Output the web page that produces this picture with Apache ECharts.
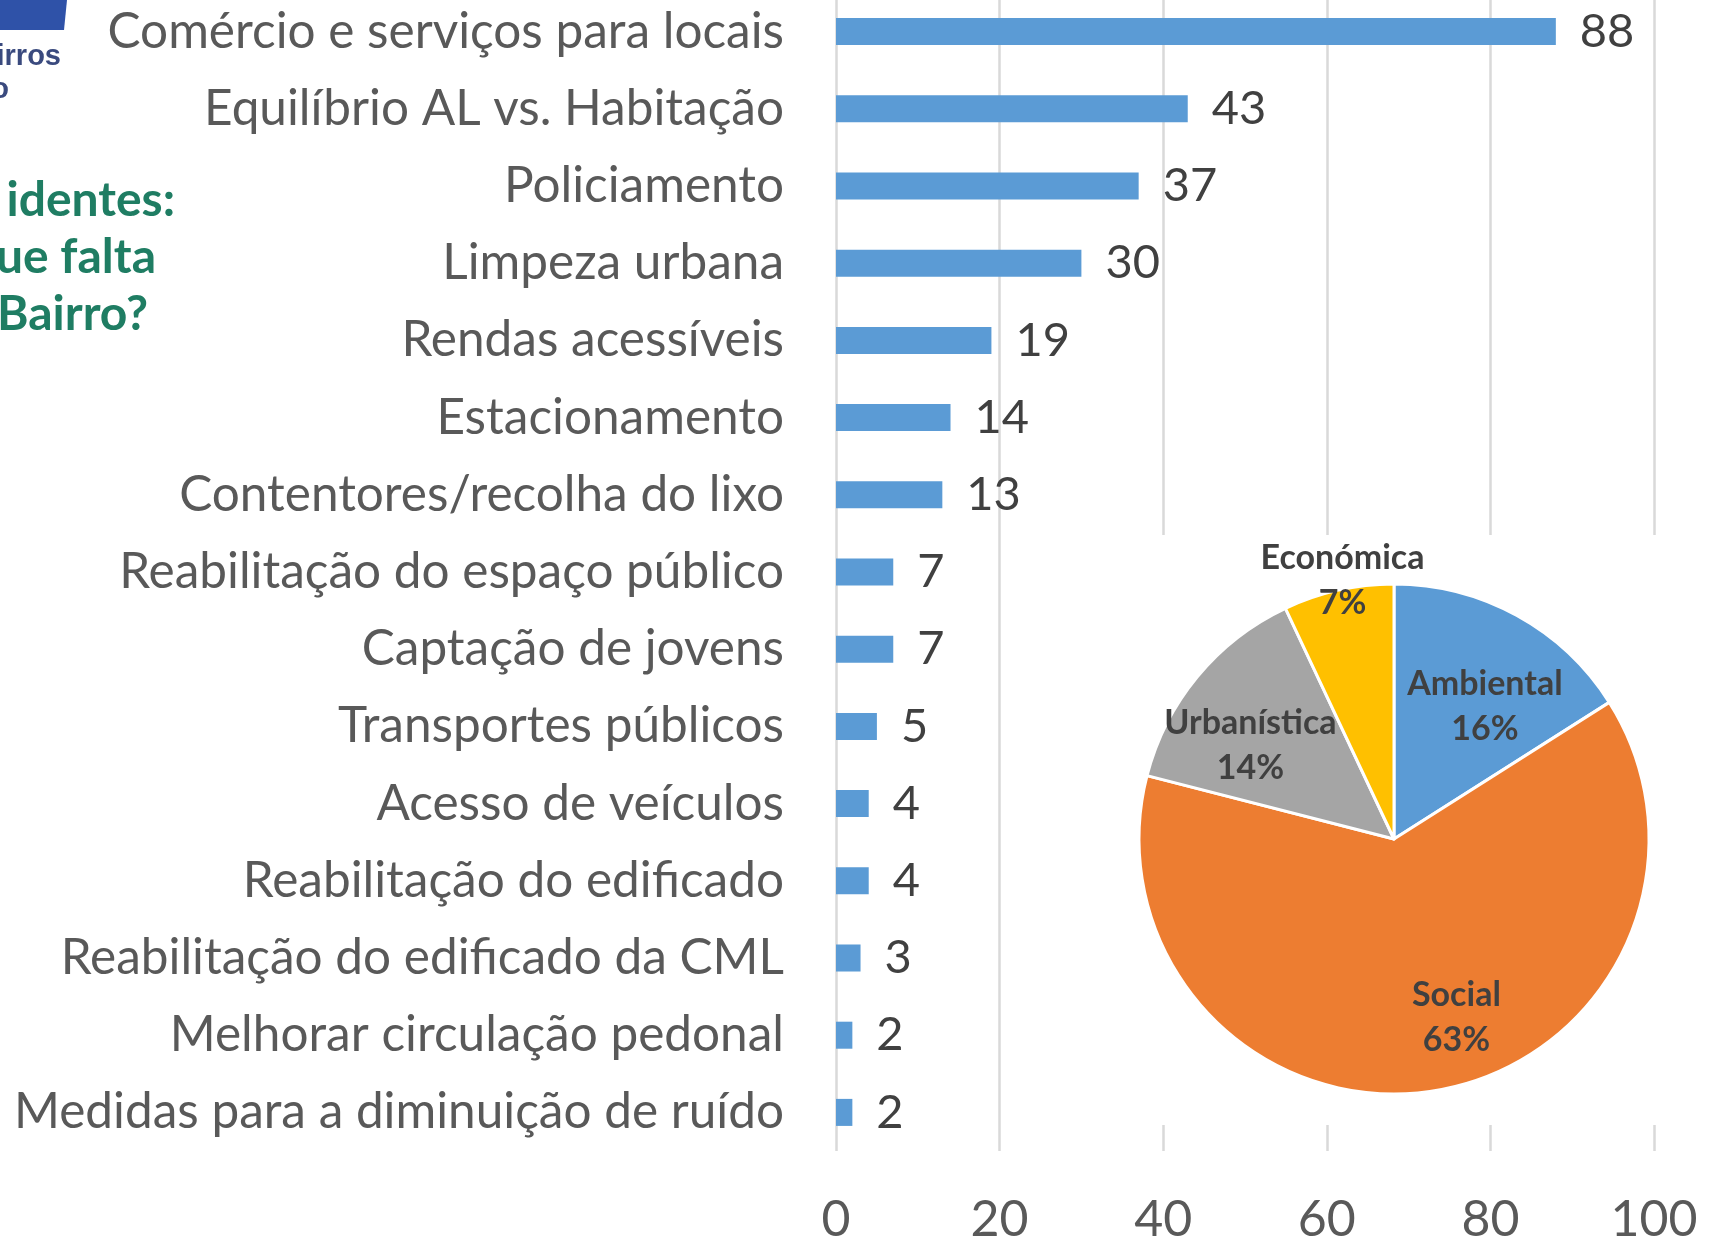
<!DOCTYPE html>
<html>
<head>
<meta charset="utf-8">
<script src="https://cdn.jsdelivr.net/npm/echarts@6/dist/echarts.min.js"></script>
<style>
html,body{margin:0;padding:0;background:#fff;}
#chart{width:1716px;height:1238px;}
</style>
</head>
<body>
<div id="chart"></div>
<script>
// ---- data ----
const categories = [
  "Comércio e serviços para locais",
  "Equilíbrio AL vs. Habitação",
  "Policiamento",
  "Limpeza urbana",
  "Rendas acessíveis",
  "Estacionamento",
  "Contentores/recolha do lixo",
  "Reabilitação do espaço público",
  "Captação de jovens",
  "Transportes públicos",
  "Acesso de veículos",
  "Reabilitação do edificado",
  "Reabilitação do edificado da CML",
  "Melhorar circulação pedonal",
  "Medidas para a diminuição de ruído"
];
const counts = [88, 43, 37, 30, 19, 14, 13, 7, 7, 5, 4, 4, 3, 2, 2];
const xTicks = [0, 20, 40, 60, 80, 100];

const pieNames = ["Ambiental", "Social", "Urbanística", "Económica"];
const piePercents = [16, 63, 14, 7];
const pieColors = ["#5B9BD5", "#ED7D31", "#A5A5A5", "#FFC000"];

const titleLines = ["identes:", "ue falta", "Bairro?"];
const logoTexts = ["irros", "o"];

// label shifts (style) relative to the default inside label position
const pieLabelShift = [[28, -18], [42, 50], [-43, -10], [-23, -131]];

const chart = echarts.init(document.getElementById('chart'));
const FONT = 'Lato';

const option = {
  backgroundColor: '#ffffff',
  animation: false,
  grid: { left: 836, right: 62, top: -7, bottom: 87, containLabel: false, outerBoundsMode: 'none' },
  xAxis: {
    type: 'value',
    min: xTicks[0],
    max: xTicks[xTicks.length - 1],
    interval: xTicks[1] - xTicks[0],
    axisLine: { show: false },
    axisTick: { show: false },
    splitLine: { show: true, lineStyle: { color: '#D9D9D9', width: 2.5 } },
    axisLabel: { fontFamily: FONT, fontSize: 50, color: '#595959', margin: 44 }
  },
  yAxis: {
    type: 'category',
    inverse: true,
    data: categories,
    axisLine: { show: false },
    axisTick: { show: false },
    axisLabel: { fontFamily: FONT, fontSize: 49.5, color: '#595959', margin: 52 }
  },
  series: [
    {
      type: 'bar',
      data: counts,
      barCategoryGap: '65%',
      itemStyle: { color: '#5B9BD5' },
      label: {
        show: true, position: 'right', distance: 24,
        fontFamily: FONT, fontSize: 47, color: '#404040'
      },
      z: 2
    },
    {
      type: 'pie',
      z: 20,
      center: [1394, 839],
      radius: 255,
      startAngle: 90,
      clockwise: true,
      data: pieNames.map((n, i) => ({ name: n, value: piePercents[i], itemStyle: { color: pieColors[i] } })),
      itemStyle: { borderColor: '#ffffff', borderWidth: 3 },
      label: {
        show: true, position: 'inside',
        formatter: '{b}\n{d}%',
        fontFamily: FONT, fontWeight: 'bold', fontSize: 34, lineHeight: 45,
        color: '#404040', align: 'center'
      },
      labelLine: { show: false },
      labelLayout: function (p) {
        const s = pieLabelShift[p.dataIndex];
        return { dx: s[0], dy: s[1] };
      },
      emphasis: { disabled: true }
    }
  ],
  graphic: [
    { type: 'rect', z: 10, shape: { x: 1110, y: 535, width: 606, height: 590 }, style: { fill: '#ffffff' } },
    { type: 'polygon', z: 10, shape: { points: [[0, 0], [67, 0], [64, 30], [0, 30]] }, style: { fill: '#2F52A8' } },
    { type: 'text', z: 10, style: { text: logoTexts[0], x: 61, y: 57, align: 'right', verticalAlign: 'middle', font: 'bold 29px "Liberation Sans"', fill: '#3A4A7E' } },
    { type: 'text', z: 10, style: { text: logoTexts[1], x: 9, y: 90, align: 'right', verticalAlign: 'middle', font: 'bold 29px "Liberation Sans"', fill: '#3A4A7E' } },
    { type: 'text', z: 10, style: { text: titleLines[0], x: 175, y: 201, align: 'right', verticalAlign: 'middle', font: 'bold 48px Lato', fill: '#1F7D63' } },
    { type: 'text', z: 10, style: { text: titleLines[1], x: 156, y: 258, align: 'right', verticalAlign: 'middle', font: 'bold 48px Lato', fill: '#1F7D63' } },
    { type: 'text', z: 10, style: { text: titleLines[2], x: 148, y: 315, align: 'right', verticalAlign: 'middle', font: 'bold 48px Lato', fill: '#1F7D63' } }
  ]
};
chart.setOption(option);
</script>
</body>
</html>
